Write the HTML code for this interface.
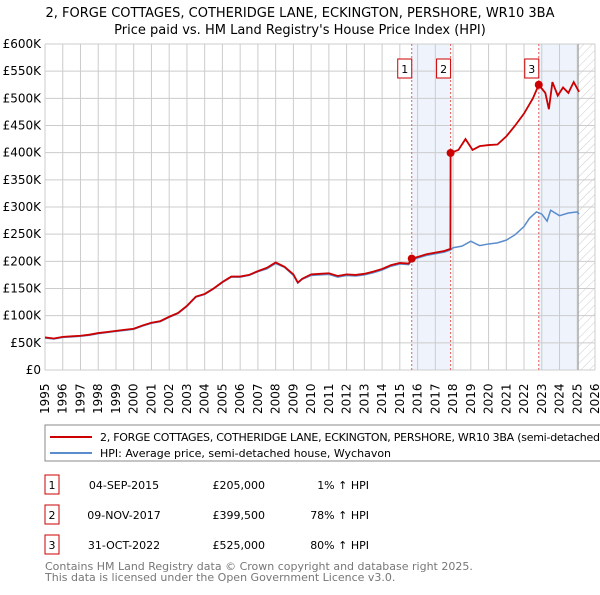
<!DOCTYPE html>
<html><head><meta charset="utf-8"><style>
body{margin:0;background:#fff;font-family:"Liberation Sans","DejaVu Sans",sans-serif;}
svg text{font-family:"DejaVu Sans","Liberation Sans",sans-serif;}
</style></head><body>
<svg id="c" width="600" height="590" xmlns="http://www.w3.org/2000/svg">
<defs><pattern id="hatch" width="6" height="6" patternUnits="userSpaceOnUse" patternTransform="rotate(45)"><line x1="0" y1="0" x2="0" y2="6" stroke="#ccc" stroke-width="1"/></pattern></defs>
<text x="300" y="17" text-anchor="middle" font-size="13">2, FORGE COTTAGES, COTHERIDGE LANE, ECKINGTON, PERSHORE, WR10 3BA</text>
<text x="300" y="34" text-anchor="middle" font-size="13">Price paid vs. HM Land Registry's House Price Index (HPI)</text>
<g id="plot"></g>
<rect x="45" y="425" width="560" height="36" fill="#fff" stroke="#888"/>
<line x1="50" y1="437" x2="92" y2="437" stroke="#cc0000" stroke-width="2"/>
<text x="100" y="441" font-size="11" textLength="500">2, FORGE COTTAGES, COTHERIDGE LANE, ECKINGTON, PERSHORE, WR10 3BA (semi-detached</text>
<line x1="50" y1="453" x2="92" y2="453" stroke="#5b8ccc" stroke-width="2"/>
<text x="100" y="457" font-size="11">HPI: Average price, semi-detached house, Wychavon</text>
<g id="tbl" font-size="11"></g>
<text x="45" y="570" font-size="11" fill="#777">Contains HM Land Registry data © Crown copyright and database right 2025.</text>
<text x="45" y="581" font-size="11" fill="#777">This data is licensed under the Open Government Licence v3.0.</text>
</svg>
<script>
const hpiYears=[1995,1995.5,1996,1996.5,1997,1997.5,1998,1998.5,1999,1999.5,2000,2000.5,2001,2001.5,2002,2002.5,2003,2003.5,2004,2004.5,2005,2005.5,2006,2006.5,2007,2007.5,2008,2008.5,2009,2009.25,2009.5,2010,2010.5,2011,2011.5,2012,2012.5,2013,2013.5,2014,2014.5,2015,2015.5,2015.67,2016,2016.5,2017,2017.5,2017.86,2018,2018.5,2019,2019.3,2019.5,2020,2020.5,2021,2021.5,2022,2022.3,2022.7,2023,2023.3,2023.5,2024,2024.5,2025,2025.1];
const hpiValues=[59,57,60,61,62,64,67,69,71,73,75,81,86,89,97,104,117,134,139,149,161,171,171,174,181,186,196,189,174,160,167,174,175,176,171,174,173,175,179,184,191,195,194,202,206,211,214,217,221,225,228,237,232,229,232,234,239,249,264,279,291,287,274,294,284,289,291,287];
const propYears=[1995,1995.5,1996,1996.5,1997,1997.5,1998,1998.5,1999,1999.5,2000,2000.5,2001,2001.5,2002,2002.5,2003,2003.5,2004,2004.5,2005,2005.5,2006,2006.5,2007,2007.5,2008,2008.5,2009,2009.25,2009.5,2010,2010.5,2011,2011.5,2012,2012.5,2013,2013.5,2014,2014.5,2015,2015.5,2015.67,2016,2016.5,2017,2017.5,2017.85,2017.86,2018.3,2018.7,2019.1,2019.5,2020,2020.5,2021,2021.5,2022,2022.5,2022.83,2023.2,2023.4,2023.6,2023.9,2024.2,2024.5,2024.8,2025.1];
const propValues=[60,58,61,62,63,65,68,70,72,74,76,82,87,90,98,105,118,135,140,150,162,172,172,175,182,188,198,190,176,161,168,176,177,178,173,176,175,177,181,186,193,197,196,205,208,213,216,219,223,399.5,405,425,405,412,414,415,430,450,472,500,525,510,480,530,505,520,510,530,512];
const saleLabels=["1","2","3"];
const saleYears=[2015.67,2017.86,2022.83];
const saleValues=[205,399.5,525];
const saleDates=["04-SEP-2015","09-NOV-2017","31-OCT-2022"];
const salePrices=["£205,000","£399,500","£525,000"];
const saleHpi=["1% ↑ HPI","78% ↑ HPI","80% ↑ HPI"];
const yTicks=[0,50,100,150,200,250,300,350,400,450,500,550,600];
const yTickLabels=["£0","£50K","£100K","£150K","£200K","£250K","£300K","£350K","£400K","£450K","£500K","£550K","£600K"];
const xTicks=[1995,1996,1997,1998,1999,2000,2001,2002,2003,2004,2005,2006,2007,2008,2009,2010,2011,2012,2013,2014,2015,2016,2017,2018,2019,2020,2021,2022,2023,2024,2025,2026];

const NS="http://www.w3.org/2000/svg";
const X0=45,X1=595,Y0=370,Y1=44;
const sx=v=>X0+(v-1995)/(2026-1995)*(X1-X0);
const sy=v=>Y0-v/600*(Y0-Y1);
const plot=document.getElementById('plot');
function mk(tag,a,p){const e=document.createElementNS(NS,tag);for(const k in a)e.setAttribute(k,a[k]);(p||plot).appendChild(e);return e;}
let b1=mk('rect',{x:sx(saleYears[0]),y:Y1,width:sx(saleYears[1])-sx(saleYears[0]),height:Y0-Y1,fill:'#eef3fc'});


const endX=sx(2025.05);
let b2=mk('rect',{x:sx(saleYears[2]),y:Y1,width:endX-sx(saleYears[2]),height:Y0-Y1,fill:'#eef3fc'});


let h=mk('rect',{x:endX,y:Y1,width:X1-endX,height:Y0-Y1,fill:'url(#hatch)'});


yTicks.forEach((t,i)=>{
 let l=mk('line',{x1:X0,x2:X1,y1:sy(t),y2:sy(t),stroke:'#ccc'});
 
 
 let tx=mk('text',{x:X0-4,y:sy(t)+4,'text-anchor':'end','font-size':12});
 tx.textContent=yTickLabels[i];
 
 
});
xTicks.forEach(t=>{
 let l=mk('line',{x1:sx(t),x2:sx(t),y1:Y1,y2:Y0,stroke:'#ccc'});
 
 
 let tx=mk('text',{x:0,y:0,'font-size':12,transform:`translate(${sx(t)+4},${Y0+44}) rotate(-90)`});
 tx.textContent=t;
 
 
});
let ed=mk('line',{x1:endX,x2:endX,y1:Y1,y2:Y0,stroke:'#999'});


saleYears.forEach((y,i)=>{
 let l=mk('line',{x1:sx(y),x2:sx(y),y1:Y1,y2:Y0,stroke:'#e06060','stroke-dasharray':'2,2'});
 
 
});
let hp=mk('polyline',{points:hpiYears.map((y,i)=>sx(y)+','+sy(hpiValues[i])).join(' '),fill:'none',stroke:'#5b8ccc','stroke-width':1.5});


let pp=mk('polyline',{points:propYears.map((y,i)=>sx(y)+','+sy(propValues[i])).join(' '),fill:'none',stroke:'#cc0000','stroke-width':1.8});


saleYears.forEach((y,i)=>{
 let c=mk('circle',{cx:sx(y),cy:sy(saleValues[i]),r:4,fill:'#cc0000'});
 
 
 let r=mk('rect',{x:sx(y)-14,y:59,width:14,height:19,fill:'#fff',stroke:'#cc0000'});
 
 
 let t=mk('text',{x:sx(y)-7,y:73,'text-anchor':'middle','font-size':11});
 t.textContent=saleLabels[i];
 
 
});
const tbl=document.getElementById('tbl');
saleLabels.forEach((s,i)=>{
 const yy=475+i*30;
 let r=mk('rect',{x:45,y:yy,width:14,height:19,fill:'#fff',stroke:'#cc0000'},tbl);
 
 
 let t=mk('text',{x:52,y:yy+14,'text-anchor':'middle'},tbl);t.textContent=s;
 
 
 let d=mk('text',{x:124,y:yy+14,'text-anchor':'middle'},tbl);d.textContent=saleDates[i];
 
 
 let p=mk('text',{x:265,y:yy+14,'text-anchor':'end'},tbl);p.textContent=salePrices[i];
 
 
 let q=mk('text',{x:369,y:yy+14,'text-anchor':'end'},tbl);q.textContent=saleHpi[i];
 
 
});
</script>
</body></html>
